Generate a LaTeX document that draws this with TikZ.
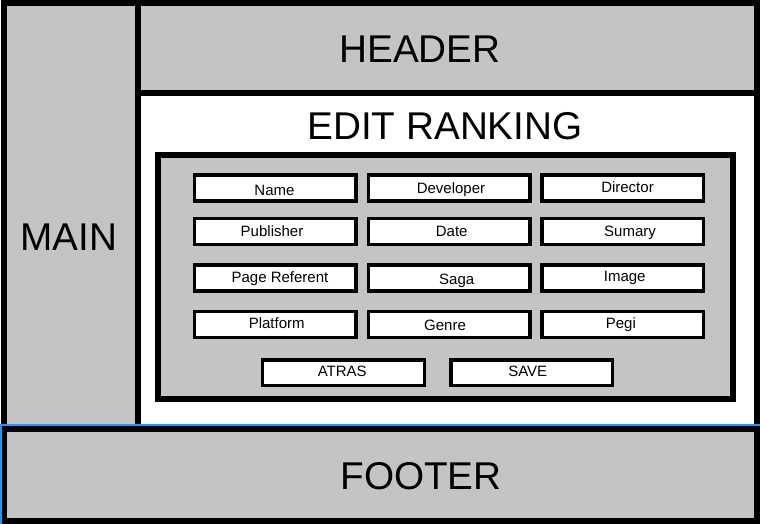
\documentclass[tikz,border=0pt]{standalone}
\usepackage{fontspec}
\setmainfont{Liberation Sans}
\definecolor{panelgray}{RGB}{196,196,196}
\definecolor{selblue}{RGB}{33,150,243}
\begin{document}
\begin{tikzpicture}[x=1pt,y=-1pt,
  panel/.style={draw=black,line width=6pt,fill=panelgray},
  area/.style={draw=black,line width=6pt,fill=white},
  bigtext/.style={font=\fontsize{38.7}{44}\selectfont,inner sep=0pt,text height=27.7pt,text depth=0pt},
  field/.style={draw=black,line width=3.3pt,fill=white,minimum width=161.7pt,minimum height=26.2pt,inner sep=0pt,outer sep=0pt},
  button/.style={field,minimum height=25.7pt},
  ftext/.style={font=\fontsize{15}{18}\selectfont,inner sep=0pt,text height=10.74pt,text depth=0pt}
]
\useasboundingbox (0,0) rectangle (760,524);
\fill[white] (0,0) rectangle (760,524);

% page layout: sidebar, header, content area, footer
\draw[panel] (4,3) rectangle (138,429);
\draw[panel] (138,3) rectangle (757,93);
\draw[area] (138,93) rectangle (757,429);
\draw[panel] (4,429) rectangle (757,521);
\draw[selblue,line width=2pt] (0,425) -- (760,425);
\draw[selblue,line width=2pt] (1,424) -- (1,524);

\node[bigtext] (main) at (69,237) {MAIN};
\node[bigtext] (header) at (420,48.9) {HEADER};
\node[bigtext] (title) at (445,125.5) {EDIT RANKING};
\node[bigtext] (footer) at (421,475.5) {FOOTER};

% form panel
\draw[panel] (158,154.5) rectangle (732.5,399);

% form fields
\node[field,label={[ftext,xshift=-0.5pt,yshift=-2.5pt]center:Name}] (name) at (275,188) {};
\node[field,label={[ftext,xshift=1.8pt,yshift=-0.3pt]center:Developer}] (developer) at (449.2,188) {};
\node[field,label={[ftext,xshift=4.6pt,yshift=0.8pt]center:Director}] (director) at (622.9,188) {};

\node[field,label={[ftext,xshift=-3pt,yshift=0.6pt]center:Publisher}] (publisher) at (275,231.4) {};
\node[field,label={[ftext,xshift=2.5pt]center:Date}] (date) at (449.2,231.4) {};
\node[field,label={[ftext,xshift=7.1pt]center:Sumary}] (sumary) at (622.9,231.4) {};

\node[field,label={[ftext,xshift=5pt,yshift=1.3pt]center:Page Referent}] (pageref) at (275,278) {};
\node[field,label={[ftext,xshift=7.5pt,yshift=-1.5pt]center:Saga}] (saga) at (449.2,278) {};
\node[field,label={[ftext,xshift=1.8pt,yshift=2pt]center:Image}] (image) at (622.9,278) {};

\node[field,label={[ftext,xshift=1.7pt,yshift=1.4pt]center:Platform}] (platform) at (275,324.7) {};
\node[field,label={[ftext,xshift=-4.2pt,yshift=-0.3pt]center:Genre}] (genre) at (449.2,324.7) {};
\node[field,label={[ftext,xshift=-2pt,yshift=1.4pt]center:Pegi}] (pegi) at (622.9,324.7) {};

% buttons
\node[button,label={[ftext,xshift=-1.3pt,yshift=1.5pt]center:ATRAS}] (atras) at (343.5,372.8) {};
\node[button,label={[ftext,xshift=-4pt,yshift=1.5pt]center:SAVE}] (save) at (531.7,372.8) {};
\end{tikzpicture}
\end{document}
